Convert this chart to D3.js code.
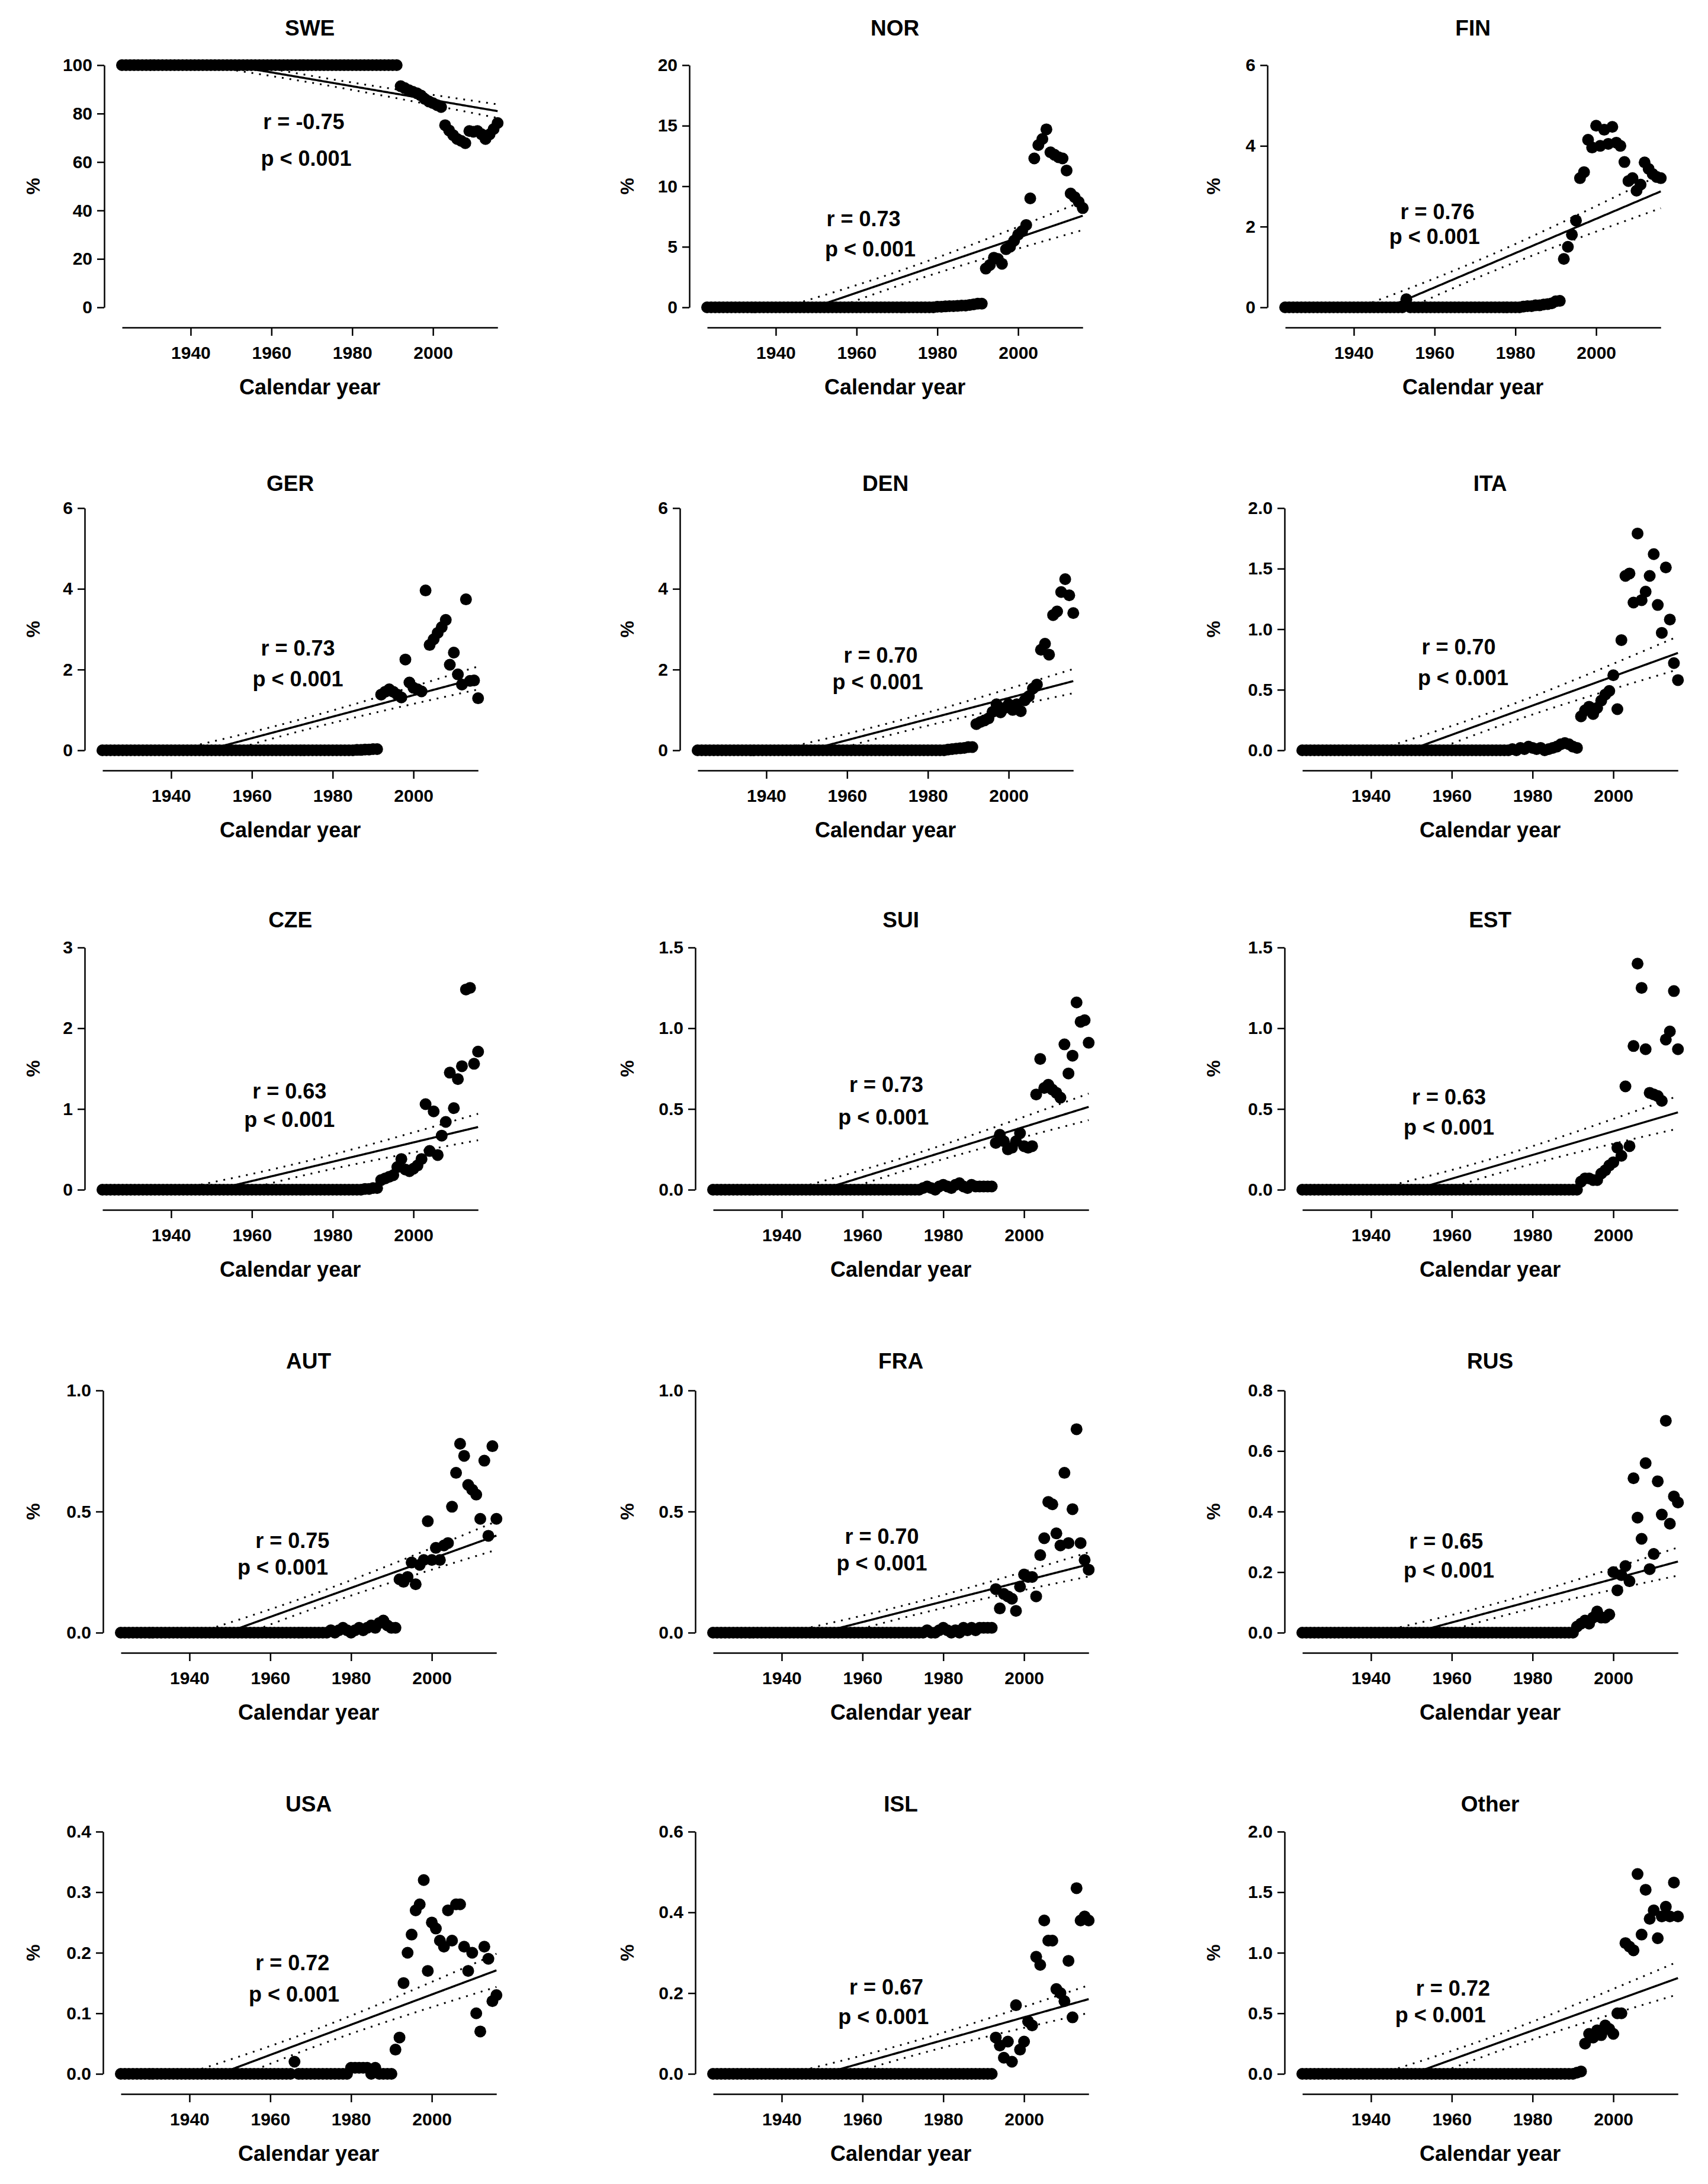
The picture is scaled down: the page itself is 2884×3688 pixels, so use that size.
<!DOCTYPE html>
<html>
<head>
<meta charset="utf-8">
<script src="https://cdn.jsdelivr.net/npm/d3@7"></script>
<style>
  body { margin: 0; background: #fff; }
  text { font-family: "Liberation Sans", Arial, sans-serif; font-weight: bold; fill: #000; }
</style>
</head>
<body>
<svg id="chart" width="2884" height="3688"></svg>
<script>
// ---- data ----
const firstYear = 1923, lastYear = 2016, detailFrom = 1975;
const countries = ["SWE", "NOR", "FIN", "GER", "DEN", "ITA", "CZE", "SUI", "EST", "AUT", "FRA", "RUS", "USA", "ISL", "Other"];
const rLabels = ["r = -0.75", "r = 0.73", "r = 0.76", "r = 0.73", "r = 0.70", "r = 0.70", "r = 0.63", "r = 0.73", "r = 0.63", "r = 0.75", "r = 0.70", "r = 0.65", "r = 0.72", "r = 0.67", "r = 0.72"];
const pLabel = "p < 0.001";
const yMax = [100, 20, 6, 6, 6, 2, 3, 1.5, 1.5, 1, 1, 0.8, 0.4, 0.6, 2];
const yStep = [20, 5, 2, 2, 2, 0.5, 1, 0.5, 0.5, 0.5, 0.5, 0.2, 0.1, 0.2, 0.5];
const tickYears = [1940, 1960, 1980, 2000];

// level of every point from firstYear up to detailFrom - 1
const baseLevel = [100, 0, 0, 0, 0, 0, 0, 0, 0, 0, 0, 0, 0, 0, 0];
// the few early points that sit off the base level: [country, year, value]
const earlyPoints = [["FIN", 1953, 0.2], ["USA", 1966, 0.02]];

// yearly values 1975..2016
const SWE = [100,100,100,100,100,100,100,100,100,100,100,100,100,100,100,100,100,
  91.3,90.5,89.7,89,88.4,87.5,86,85,84.3,83.5,82.7,75.2,73,71.1,69.5,68.7,67.8,72.8,72.5,72.8,71.5,69.5,71.4,73.6,76.1];
const NOR = [0,0,0,0,0,0.05,0.05,0.08,0.1,0.1,0.12,0.15,0.15,0.2,0.25,0.3,0.3,
  3.2,3.5,4.1,4.0,3.6,4.8,5.0,5.5,6.0,6.3,6.8,9.0,12.3,13.4,13.9,14.7,12.8,12.6,12.4,12.3,11.3,9.4,9.1,8.7,8.2];
const FIN = [0,0,0,0,0,0,0,0.02,0.03,0.03,0.05,0.05,0.07,0.08,0.1,0.15,0.16,
  1.2,1.5,1.8,2.15,3.2,3.35,4.15,3.96,4.5,4.0,4.4,4.05,4.47,4.08,4.0,3.6,3.13,3.2,2.89,3.04,3.59,3.43,3.3,3.23,3.2];
const GER = [0,0,0,0,0,0,0,0,0,0,0,0.01,0.01,0.02,0.02,0.03,0.03,
  1.38,1.45,1.51,1.45,1.38,1.31,2.25,1.68,1.55,1.51,1.46,3.96,2.61,2.75,2.91,3.05,3.23,2.12,2.42,1.88,1.63,3.74,1.72,1.73,1.29];
const DEN = [0,0,0,0,0,0,0,0,0,0,0.02,0.03,0.04,0.05,0.06,0.08,0.08,
  0.65,0.70,0.74,0.79,0.95,1.14,0.94,1.05,1.14,1.0,1.14,0.97,1.24,1.34,1.53,1.63,2.49,2.64,2.37,3.35,3.44,3.92,4.24,3.84,3.40];
const ITA = [0.01,0,0.02,0.01,0.03,0.02,0.01,0.02,0,0.01,0.02,0.03,0.05,0.06,0.05,0.03,0.02,
  0.28,0.33,0.36,0.30,0.35,0.41,0.46,0.49,0.62,0.34,0.91,1.44,1.46,1.22,1.79,1.24,1.31,1.44,1.62,1.20,0.97,1.51,1.08,0.72,0.58];
const CZE = [0,0,0,0,0,0,0,0,0,0,0,0,0,0.01,0.01,0.02,0.02,
  0.12,0.14,0.16,0.18,0.28,0.38,0.25,0.23,0.26,0.30,0.38,1.06,0.48,0.97,0.43,0.67,0.84,1.45,1.01,1.37,1.53,2.48,2.50,1.56,1.71];
const SUI = [0.01,0.02,0.01,0,0.02,0.03,0.02,0.01,0.03,0.04,0.02,0.01,0.03,0.02,0.02,0.02,0.02,
  0.02,0.29,0.34,0.30,0.25,0.26,0.30,0.35,0.27,0.26,0.27,0.59,0.81,0.63,0.65,0.62,0.60,0.57,0.90,0.72,0.83,1.16,1.04,1.05,0.91];
const EST = [0,0,0,0,0,0,0,0,0,0,0,0,0,0,0,0,0,
  0.05,0.07,0.07,0.06,0.06,0.10,0.12,0.15,0.17,0.26,0.21,0.64,0.27,0.89,1.40,1.25,0.87,0.60,0.59,0.58,0.55,0.93,0.98,1.23,0.87];
const AUT = [0.01,0,0.01,0.02,0.01,0,0.01,0.02,0.01,0.02,0.03,0.02,0.04,0.05,0.03,0.02,0.02,
  0.22,0.21,0.23,0.29,0.20,0.28,0.30,0.46,0.30,0.35,0.30,0.36,0.37,0.52,0.66,0.78,0.73,0.61,0.59,0.57,0.47,0.71,0.40,0.77,0.47];
const FRA = [0,0.01,0,0,0.01,0.02,0.01,0,0.01,0,0.02,0.01,0.02,0.01,0.02,0.02,0.02,
  0.02,0.18,0.10,0.16,0.15,0.14,0.09,0.19,0.24,0.23,0.23,0.15,0.32,0.39,0.54,0.53,0.41,0.36,0.66,0.37,0.51,0.84,0.37,0.30,0.26];
const RUS = [0,0,0,0,0,0,0,0,0,0,0,0,0,0,0,0,0.02,
  0.03,0.04,0.03,0.05,0.07,0.05,0.05,0.06,0.20,0.14,0.19,0.22,0.17,0.51,0.38,0.31,0.56,0.21,0.26,0.50,0.39,0.70,0.36,0.45,0.43];
const USA = [0,0,0,0,0,0.01,0.01,0.01,0.01,0.01,0,0.01,0,0,0,0,0.04,
  0.06,0.15,0.20,0.23,0.27,0.28,0.32,0.17,0.25,0.24,0.22,0.21,0.27,0.22,0.28,0.28,0.21,0.17,0.20,0.10,0.07,0.21,0.19,0.12,0.13];
const ISL = [0,0,0,0,0,0,0,0,0,0,0,0,0,0,0,0,0,
  0,0.09,0.07,0.04,0.08,0.03,0.17,0.06,0.08,0.13,0.12,0.29,0.27,0.38,0.33,0.33,0.21,0.20,0.18,0.28,0.14,0.46,0.38,0.39,0.38];
const Other = [0,0,0,0,0,0,0,0,0,0,0,0,0,0,0,0,0.01,
  0.02,0.25,0.33,0.30,0.36,0.32,0.40,0.37,0.33,0.50,0.50,1.08,1.05,1.02,1.65,1.15,1.52,1.28,1.35,1.12,1.30,1.38,1.30,1.58,1.30];
const series = [SWE, NOR, FIN, GER, DEN, ITA, CZE, SUI, EST, AUT, FRA, RUS, USA, ISL, Other];

// where the r / p text sits, in data units [year, value]
const rAt = [[1968, 76.7], [1961.7, 7.3], [1960.7, 2.37], [1971.4, 2.53], [1968.3, 2.36], [1961.7, 0.855], [1969.3, 1.22], [1965.9, 0.65], [1959.3, 0.574], [1965.5, 0.379], [1964.8, 0.397], [1958.6, 0.303], [1965.5, 0.183], [1965.9, 0.215], [1960.3, 0.705]];
const pAt = [[1968.6, 61.6], [1963.4, 4.8], [1960, 1.75], [1971.4, 1.77], [1967.6, 1.70], [1962.8, 0.60], [1969.3, 0.87], [1965.2, 0.45], [1959.3, 0.386], [1963.1, 0.27], [1964.8, 0.287], [1959.3, 0.207], [1965.9, 0.132], [1965.2, 0.142], [1957.2, 0.486]];

// ---- layout ----
const rowTop = [110, 858, 1600, 2348, 3093];
const titleY = [47, 816, 1553, 2298, 3046];
const pctX = [56, 1059, 2049];
const plotH = 409;
const yearPx = 6.82;
const plotW = (lastYear - firstYear) * yearPx;
const panelX = [206, 1194, 2170, 173, 1178, 2199, 173, 1204, 2199, 204, 1204, 2199, 204, 1204, 2199];
const tStat = 1.986;

const svg = d3.select("#chart");

function pointsOf(i) {
  const pts = [];
  for (let yr = firstYear; yr < detailFrom; yr++) pts.push({ year: yr, v: baseLevel[i] });
  earlyPoints.filter(e => e[0] === countries[i]).forEach(e => {
    pts.find(p => p.year === e[1]).v = e[2];
  });
  series[i].forEach((v, k) => pts.push({ year: detailFrom + k, v: v }));
  return pts;
}

function regression(pts) {
  const n = pts.length;
  const xm = d3.mean(pts, d => d.year), ym = d3.mean(pts, d => d.v);
  const sxx = d3.sum(pts, d => (d.year - xm) ** 2);
  const sxy = d3.sum(pts, d => (d.year - xm) * (d.v - ym));
  const b = sxy / sxx, a = ym - b * xm;
  const sse = d3.sum(pts, d => (d.v - (a + b * d.year)) ** 2);
  const s = Math.sqrt(sse / (n - 2));
  return {
    fit: xx => a + b * xx,
    ci: xx => tStat * s * Math.sqrt(1 / n + (xx - xm) ** 2 / sxx)
  };
}

countries.forEach((name, i) => {
  const row = Math.floor(i / 3), col = i % 3;
  const top = rowTop[row], bottom = top + plotH;
  const x0 = panelX[i];
  const x = d3.scaleLinear().domain([firstYear, lastYear]).range([x0, x0 + plotW]);
  const y = d3.scaleLinear().domain([0, yMax[i]]).range([bottom, top]);
  const g = svg.append("g");
  const fmt = yStep[i] < 1 ? d3.format(".1f") : d3.format("d");

  // clip for the fitted lines
  const clipId = "clip" + i;
  svg.append("clipPath").attr("id", clipId).append("rect")
    .attr("x", x0 - 12).attr("y", top).attr("width", plotW + 24).attr("height", plotH);

  // y axis
  const yAxis = g.append("g")
    .attr("transform", `translate(${x0 - 30},0)`)
    .call(d3.axisLeft(y)
      .tickValues(d3.range(0, yMax[i] + yStep[i] / 2, yStep[i]))
      .tickSize(12).tickSizeOuter(0).tickPadding(8).tickFormat(fmt));

  // x axis
  const xAxis = g.append("g")
    .attr("transform", `translate(0,${bottom + 34})`)
    .call(d3.axisBottom(x).tickValues(tickYears).tickSize(14).tickSizeOuter(0).tickPadding(18).tickFormat(d3.format("d")));

  [yAxis, xAxis].forEach(ax => {
    ax.selectAll("path, line").attr("stroke", "#000").attr("stroke-width", 2.5);
    ax.selectAll("text").style("font-size", "30px").style("font-family", "'Liberation Sans', Arial, sans-serif").style("font-weight", "bold");
  });

  // titles
  g.append("text").attr("x", x0 + plotW / 2).attr("y", titleY[row])
    .attr("text-anchor", "middle").attr("dominant-baseline", "central")
    .style("font-size", "37px").text(name);
  g.append("text").attr("x", x0 + plotW / 2).attr("y", bottom + 134)
    .attr("text-anchor", "middle").attr("dominant-baseline", "central")
    .style("font-size", "36px").text("Calendar year");
  g.append("text")
    .attr("transform", `translate(${pctX[col]},${(top + bottom) / 2}) rotate(-90)`)
    .attr("text-anchor", "middle").attr("dominant-baseline", "central")
    .style("font-size", "32px").text("%");

  const pts = pointsOf(i);
  const reg = regression(pts);
  const xs = d3.range(firstYear, lastYear + 0.01, 0.25);
  const line = d3.line().x(d => x(d[0])).y(d => y(d[1]));
  const lines = g.append("g").attr("clip-path", `url(#${clipId})`);
  lines.append("path").datum(xs.map(t => [t, reg.fit(t)]))
    .attr("d", line).attr("fill", "none").attr("stroke", "#000").attr("stroke-width", 3.5);
  [-1, 1].forEach(sgn => {
    lines.append("path").datum(xs.map(t => [t, reg.fit(t) + sgn * reg.ci(t)]))
      .attr("d", line).attr("fill", "none").attr("stroke", "#000")
      .attr("stroke-width", 3).attr("stroke-dasharray", "3,10");
  });

  g.append("g").selectAll("circle").data(pts).join("circle")
    .attr("cx", d => x(d.year)).attr("cy", d => y(d.v)).attr("r", 10).attr("fill", "#000");

  g.append("text").attr("x", x(rAt[i][0])).attr("y", y(rAt[i][1]))
    .attr("text-anchor", "middle").attr("dominant-baseline", "central")
    .style("font-size", "36px").text(rLabels[i]);
  g.append("text").attr("x", x(pAt[i][0])).attr("y", y(pAt[i][1]))
    .attr("text-anchor", "middle").attr("dominant-baseline", "central")
    .style("font-size", "36px").text(pLabel);
});
</script>
</body>
</html>
